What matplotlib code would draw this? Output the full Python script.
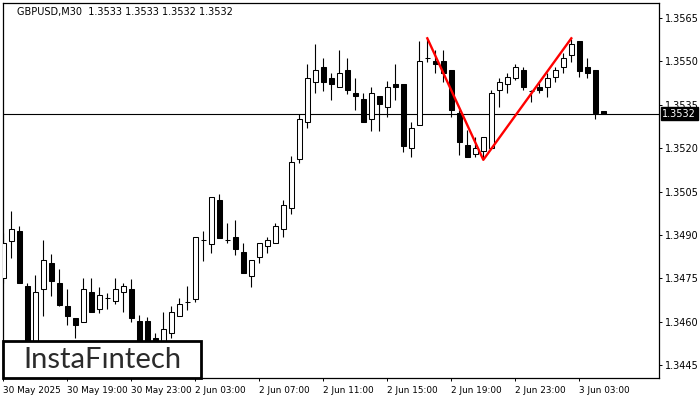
import matplotlib
matplotlib.use("Agg")
import matplotlib.pyplot as plt
import matplotlib.transforms as mtransforms
from matplotlib.patches import Rectangle
import numpy as np

# GBPUSD M30, 30 May 15:00 -> 3 Jun 04:00 (76 candles)
opens = [1.34751, 1.34879, 1.34914, 1.34724, 1.34468, 1.34713, 1.34803, 1.34734, 1.34655, 1.34613,
         1.34599, 1.34703, 1.34644, 1.34682, 1.34672, 1.34703, 1.34713, 1.34603, 1.34603, 1.34544,
         1.34520, 1.34561, 1.34620, 1.34669, 1.34679, 1.34883, 1.34869, 1.35021, 1.34883, 1.34893,
         1.34841, 1.34758, 1.34824, 1.34862, 1.34872, 1.34921, 1.34993, 1.35163, 1.35291, 1.35429,
         1.35481, 1.35443, 1.35412, 1.35470, 1.35391, 1.35370, 1.35301, 1.35380, 1.35342, 1.35422,
         1.35422, 1.35201, 1.35280, 1.35512, 1.35501, 1.35501, 1.35470, 1.35322, 1.35211, 1.35180,
         1.35190, 1.35201, 1.35401, 1.35422, 1.35443, 1.35470, 1.35398, 1.35412, 1.35412, 1.35446,
         1.35481, 1.35522, 1.35571, 1.35481, 1.35470, 1.3533]
highs = [1.34907, 1.34983, 1.34931, 1.34734, 1.34762, 1.34883, 1.34834, 1.34783, 1.34713, 1.34613,
         1.34751, 1.34751, 1.34720, 1.34700, 1.34751, 1.34734, 1.34748, 1.34624, 1.34617, 1.34561,
         1.34634, 1.34655, 1.34682, 1.34724, 1.34893, 1.34914, 1.35031, 1.35042, 1.34942, 1.34952,
         1.34872, 1.34814, 1.34872, 1.34893, 1.34942, 1.35021, 1.35173, 1.35318, 1.35491, 1.35560,
         1.35512, 1.35460, 1.35539, 1.35512, 1.35443, 1.35391, 1.35412, 1.35380, 1.35432, 1.35491,
         1.35422, 1.35291, 1.35571, 1.35577, 1.35539, 1.35539, 1.35470, 1.35332, 1.35263, 1.35239,
         1.35239, 1.35401, 1.35443, 1.35460, 1.35491, 1.35481, 1.35401, 1.35425, 1.35460, 1.35481,
         1.35529, 1.35577, 1.35571, 1.35512, 1.35470, 1.3533]
lows = [1.34734, 1.34821, 1.34734, 1.34447, 1.34454, 1.34620, 1.34689, 1.34655, 1.34589, 1.34544,
        1.34599, 1.34634, 1.34631, 1.34644, 1.34662, 1.34634, 1.34599, 1.34482, 1.34475, 1.34503,
        1.34503, 1.34544, 1.34620, 1.34641, 1.34669, 1.34810, 1.34838, 1.34890, 1.34872, 1.34831,
        1.34769, 1.34720, 1.34803, 1.34838, 1.34872, 1.34893, 1.34973, 1.35149, 1.35270, 1.35391,
        1.35398, 1.35367, 1.35412, 1.35387, 1.35332, 1.35291, 1.35260, 1.35260, 1.35308, 1.35367,
        1.35187, 1.35170, 1.35280, 1.35498, 1.35460, 1.35429, 1.35308, 1.35177, 1.35170, 1.35170,
        1.35166, 1.35201, 1.35342, 1.35391, 1.35436, 1.35401, 1.35360, 1.35391, 1.35377, 1.35429,
        1.35460, 1.35498, 1.35446, 1.35443, 1.35301, 1.3532]
closes = [1.34872, 1.34921, 1.34734, 1.34461, 1.34703, 1.34814, 1.34741, 1.34658, 1.34620, 1.34589,
          1.34713, 1.34634, 1.34693, 1.34682, 1.34713, 1.34724, 1.34613, 1.34503, 1.34496, 1.34520,
          1.34575, 1.34634, 1.34662, 1.34669, 1.34893, 1.34883, 1.35031, 1.34890, 1.34883, 1.34852,
          1.34769, 1.34814, 1.34872, 1.34883, 1.34931, 1.35004, 1.35152, 1.35301, 1.35443, 1.35470,
          1.35429, 1.35422, 1.35460, 1.35401, 1.35380, 1.35291, 1.35391, 1.35353, 1.35412, 1.35412,
          1.35208, 1.35270, 1.35501, 1.35512, 1.35491, 1.35460, 1.35332, 1.35221, 1.35170, 1.35201,
          1.35239, 1.35391, 1.35429, 1.35446, 1.35481, 1.35412, 1.35398, 1.35401, 1.35443, 1.35470,
          1.35512, 1.35560, 1.35467, 1.35460, 1.35322, 1.3532]

time_ticks = [0, 8, 16, 24, 32, 40, 48, 56, 64, 72]
time_labels = ["30 May 2025", "30 May 19:00", "30 May 23:00", "2 Jun 03:00", "2 Jun 07:00",
               "2 Jun 11:00", "2 Jun 15:00", "2 Jun 19:00", "2 Jun 23:00", "3 Jun 03:00"]
price_ticks = [1.3445, 1.3460, 1.3475, 1.3490, 1.3505, 1.3520, 1.3535, 1.3550, 1.3565]

pattern_idx = [53, 60, 71]
pattern_price = [1.3558, 1.3516, 1.3558]
last_price = 1.3532
title = "GBPUSD,M30  1.3533 1.3533 1.3532 1.3532"

W, H = 700, 400
fig = plt.figure(figsize=(7, 4), dpi=100)
ax = fig.add_axes([2.7 / W, 22 / H, (659 - 2.7) / W, (378 - 3) / H])

o = np.array(opens)
c = np.array(closes)
x = np.arange(len(o))
up = c >= o

ax.axhline(last_price, color="black", lw=0.8, zorder=1)
ax.vlines(x, lows, highs, color="black", lw=0.8, zorder=2)
ax.bar(x, np.abs(c - o), bottom=np.minimum(o, c), width=0.62,
       color=np.where(up, "white", "black"), edgecolor="black", linewidth=0.75, zorder=3)

ax.plot(pattern_idx, pattern_price, color="#ff0000", lw=1.7, zorder=4)

ax.set_xlim(-0.075, 81.96)
ax.set_ylim(1.34406, 1.35702)

ax.yaxis.tick_right()
ax.set_yticks(price_ticks)
ax.set_yticklabels(["%.4f" % p for p in price_ticks])
ax.set_xticks(time_ticks)
ax.set_xticklabels(time_labels)
for lab in ax.get_xticklabels():
    lab.set_horizontalalignment("left")
ax.tick_params(axis="both", direction="out", length=2.5, width=0.7, labelsize=7,
               colors="black", pad=2)
ax.tick_params(axis="x", pad=3, labelsize=6.4)
for s in ax.spines.values():
    s.set_linewidth(0.9)

# current price tag
tr = mtransforms.blended_transform_factory(ax.transAxes, ax.transData)
ax.text(1.005, last_price, "%.4f" % last_price, transform=tr, color="white",
        fontsize=7, va="center", ha="left",
        bbox=dict(facecolor="black", edgecolor="black", pad=1.2), zorder=6, clip_on=False)

fig.text(17 / W, 1 - 12 / H, title, fontsize=7, va="center", ha="left")

# logo box
fig.add_artist(Rectangle((3 / W, 22 / H), 198 / W, 37 / H, transform=fig.transFigure,
                         facecolor="white", edgecolor="black", lw=2.0, zorder=5))
fig.text(102 / W, 1 - 360 / H, "InstaFıntech", fontsize=21, family="Lato",
         color="#2b2b2b", ha="center", va="center", zorder=6)

fig.savefig("out.png", dpi=100)
